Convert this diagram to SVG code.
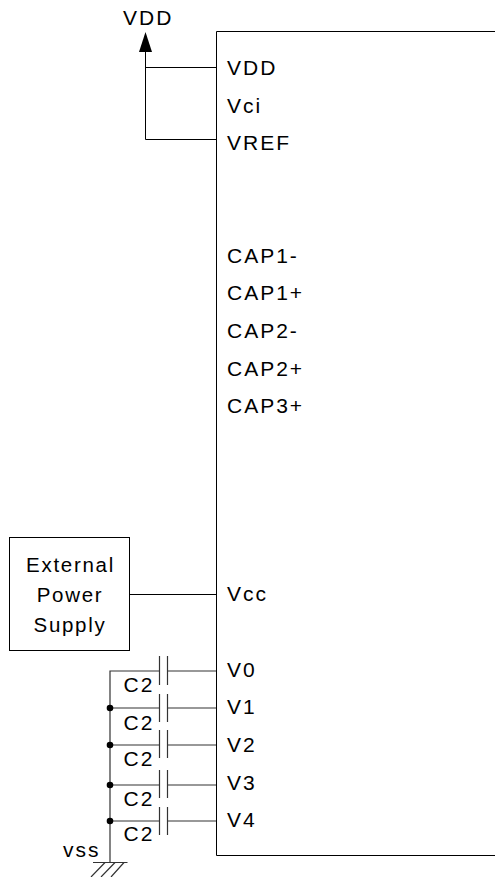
<svg xmlns="http://www.w3.org/2000/svg" width="495" height="877" viewBox="0 0 495 877">
<style>
text{font-family:"Liberation Sans",Arial,sans-serif;font-size:21px;letter-spacing:2px;fill:#000}
.w{fill:none;stroke:#000;stroke-width:1}
.g{fill:none;stroke:#333;stroke-width:1.2}
.c{text-anchor:middle;font-size:20.500px;letter-spacing:1.700px}
</style>
<rect width="495" height="877" fill="#fff"/>
<g id="chip">
<path class="w" d="M495 31.500H216.500V855.500H495"/>
<text x="227" y="75">VDD</text>
<text x="227" y="113">Vci</text>
<text x="227" y="150">VREF</text>
<text x="227" y="263">CAP1-</text>
<text x="227" y="300">CAP1+</text>
<text x="227" y="338">CAP2-</text>
<text x="227" y="376">CAP2+</text>
<text x="227" y="413">CAP3+</text>
<text x="227" y="601">Vcc</text>
<text x="227" y="677">V0</text>
<text x="227" y="714">V1</text>
<text x="227" y="752">V2</text>
<text x="227" y="790">V3</text>
<text x="227" y="827">V4</text>
</g>
<g id="vdd-supply">
<path d="M145.500 32L139 52H152Z" fill="#000"/>
<text x="123" y="25">VDD</text>
</g>
<g id="external-power-supply">
<rect class="w" x="9.500" y="537.500" width="120" height="113"/>
<text class="c" x="70.500" y="572">External</text>
<text class="c" x="70" y="602">Power</text>
<text class="c" x="70" y="632">Supply</text>
</g>
<g id="connectors">
<path class="w" d="M145.500 50V139.500H216M145 67.500H216M130 594.500H216"/>
<path class="g" d="M110 862V671H159M110 708H159M110 745H159M110 785H159M110 821H159M168 671H216M168 708H216M168 745H216M168 785H216M168 821H216"/>
</g>
<g id="capacitors">
<path class="g" d="M159.500 656V685M167.500 656V685M159.500 694V722M167.500 694V722M159.500 730V758M167.500 730V758M159.500 770V798M167.500 770V798M159.500 807V835M167.500 807V835"/>
</g>
<g id="labels-c2">
<text x="123.500" y="692">C2</text>
<text x="123.500" y="730">C2</text>
<text x="123.500" y="766">C2</text>
<text x="123.500" y="806">C2</text>
<text x="123.500" y="841">C2</text>
</g>
<g id="junctions" fill="#000">
<circle cx="110" cy="708" r="3.300"/>
<circle cx="110" cy="745" r="3.300"/>
<circle cx="110" cy="785" r="3.300"/>
<circle cx="110" cy="821" r="3.300"/>
</g>
<g id="ground">
<path class="g" d="M93 862.500H127.500M105 862.500L91 877M115 862.500L101 877M124 862.500L111 877"/>
<text x="63" y="857">vss</text>
</g>
</svg>
